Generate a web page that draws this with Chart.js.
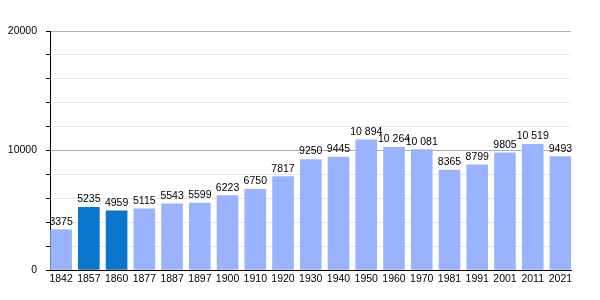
<!DOCTYPE html>
<html>
<head>
<meta charset="utf-8">
<script src="https://cdn.jsdelivr.net/npm/chart.js@4"></script>
<style>
	body { margin: 0; background: #fff; }
	canvas { display: block; }
</style>
</head>
<body>
<canvas id="canvas" width="600" height="300"></canvas>
<script>
const years = ['1842', '1857', '1860', '1877', '1887', '1897', '1900', '1910', '1920', '1930',
	'1940', '1950', '1960', '1970', '1981', '1991', '2001', '2011', '2021'];
const population = [3375, 5235, 4959, 5115, 5543, 5599, 6223, 6750, 7817, 9250,
	9445, 10894, 10264, 10081, 8365, 8799, 9805, 10519, 9493];
const highlighted = ['1857', '1860'];
const yTickLabels = [0, 10000, 20000];

const FONT = '"Liberation Sans", Arial, sans-serif';
const LIGHT = '#99b3ff';
const DARK = '#0a77cc';

// 10 894 style
const fmt = v => v >= 10000 ? Math.floor(v / 1000) + ' ' + String(v % 1000).padStart(3, '0') : String(v);

const valueLabels = {
	id: 'valueLabels',
	afterDatasetsDraw(chart) {
		const ctx = chart.ctx;
		const meta = chart.getDatasetMeta(0);
		ctx.save();
		ctx.font = '10.5px ' + FONT;
		ctx.fillStyle = '#000';
		ctx.textAlign = 'center';
		ctx.textBaseline = 'alphabetic';
		meta.data.forEach((bar, i) => {
			ctx.fillText(fmt(population[i]), bar.x, bar.y - 5);
		});
		ctx.restore();
	}
};

new Chart(document.getElementById('canvas'), {
	type: 'bar',
	data: {
		datasets: [{
			data: population.map((v, i) => ({ x: i, y: v })),
			backgroundColor: years.map(y => highlighted.includes(y) ? DARK : LIGHT),
			borderWidth: 0,
			barThickness: 21,
		}]
	},
	options: {
		responsive: false,
		animation: false,
		layout: {
			padding: { left: 0, right: 29, top: 31, bottom: 0 }
		},
		plugins: {
			legend: { display: false },
			tooltip: { enabled: false },
		},
		scales: {
			x: {
				type: 'linear',
				offset: false,
				min: -0.4,
				max: 18.38,
				afterBuildTicks: scale => {
					scale.ticks = years.map((y, i) => ({ value: i }));
				},
				afterFit: scale => { scale.height = 30; },
				grid: { display: false, drawTicks: false, offset: false },
				border: { display: true, color: '#000', width: 1 },
				ticks: {
					padding: 3,
					maxRotation: 0,
					autoSkip: false,
					color: '#000',
					font: { family: FONT, size: 10.5 },
					callback: v => years[v],
				},
			},
			y: {
				min: 0,
				max: 20000,
				afterFit: scale => { scale.width = 50; },
				border: { display: true, color: '#000', width: 1 },
				grid: {
					color: ctx => ctx.tick && ctx.tick.value % 10000 === 0 ? '#b0b0b0' : '#e6e6e6',
					tickColor: '#000',
					tickLength: 4,
				},
				ticks: {
					stepSize: 2000,
					padding: 9,
					color: '#000',
					font: { family: FONT, size: 10.5 },
					callback: v => yTickLabels.includes(v) ? String(v) : '',
				},
			},
		},
	},
	plugins: [valueLabels],
});
</script>
</body>
</html>
